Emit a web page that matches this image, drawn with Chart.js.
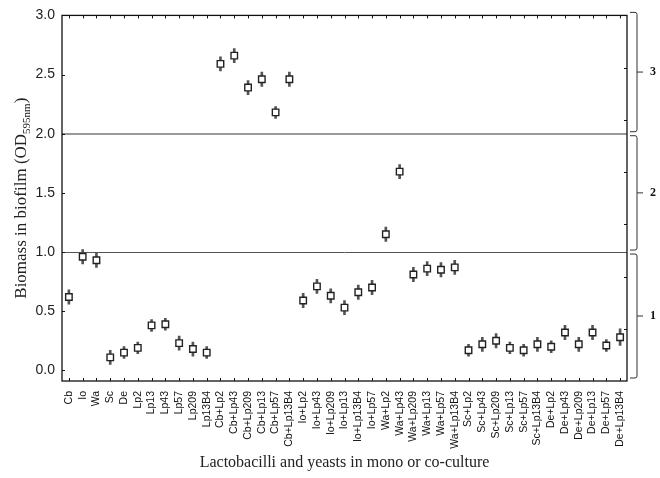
<!DOCTYPE html>
<html>
<head>
<meta charset="utf-8">
<script src="https://cdn.jsdelivr.net/npm/chart.js@4.4.0/dist/chart.umd.min.js"></script>
<style>
  html, body { margin: 0; padding: 0; background: #fff; }
</style>
</head>
<body>
<canvas id="chart" width="660" height="478"></canvas>
<script>
// cultures on the x axis
const categories = [
    'Cb', 'Io', 'Wa', 'Sc', 'De',
    'Lp2', 'Lp13', 'Lp43', 'Lp57', 'Lp209', 'Lp13B4',
    'Cb+Lp2', 'Cb+Lp43', 'Cb+Lp209', 'Cb+Lp13', 'Cb+Lp57', 'Cb+Lp13B4',
    'Io+Lp2', 'Io+Lp43', 'Io+Lp209', 'Io+Lp13', 'Io+Lp13B4', 'Io+Lp57',
    'Wa+Lp2', 'Wa+Lp43', 'Wa+Lp209', 'Wa+Lp13', 'Wa+Lp57', 'Wa+Lp13B4',
    'Sc+Lp2', 'Sc+Lp43', 'Sc+Lp209', 'Sc+Lp13', 'Sc+Lp57', 'Sc+Lp13B4',
    'De+Lp2', 'De+Lp43', 'De+Lp209', 'De+Lp13', 'De+Lp57', 'De+Lp13B4'
];
// mean OD595nm
const biomass = [
    0.62, 0.96, 0.93, 0.11, 0.15,
    0.19, 0.38, 0.39, 0.23, 0.18, 0.15,
    2.59, 2.66, 2.39, 2.46, 2.18, 2.46,
    0.59, 0.71, 0.63, 0.53, 0.66, 0.70,
    1.15, 1.68, 0.81, 0.86, 0.85, 0.87,
    0.17, 0.22, 0.25, 0.19, 0.17, 0.22,
    0.20, 0.32, 0.22, 0.32, 0.21, 0.28
];
// error bar half length
const errs = [
    0.06, 0.06, 0.06, 0.06, 0.05,
    0.05, 0.05, 0.05, 0.06, 0.06, 0.05,
    0.06, 0.06, 0.06, 0.06, 0.05, 0.06,
    0.06, 0.06, 0.06, 0.06, 0.06, 0.06,
    0.06, 0.06, 0.06, 0.06, 0.06, 0.06,
    0.05, 0.06, 0.06, 0.05, 0.05, 0.06,
    0.05, 0.06, 0.06, 0.06, 0.05, 0.07
];
const yTicks = [0, 0.5, 1, 1.5, 2, 2.5, 3];
// biofilm classes shown with brackets on the right
const classLabels = ['3', '2', '1'];
const classBounds = [3, 2, 1, null];

const serif = '"Liberation Serif", "Times New Roman", serif';
const sans = '"Liberation Sans", Arial, sans-serif';

const framePlugin = {
    id: 'frame',
    afterDraw(chart) {
        const ctx = chart.ctx;
        const a = chart.chartArea;
        const xs = chart.scales.x;
        const ys = chart.scales.y;
        ctx.save();

        // frame
        ctx.strokeStyle = '#111';
        ctx.lineWidth = 1.3;
        ctx.strokeRect(a.left, a.top, a.right - a.left, a.bottom - a.top);

        // inward ticks
        ctx.lineWidth = 1;
        ctx.beginPath();
        categories.forEach((c, i) => {
            const px = Math.round(xs.getPixelForTick(i)) + 0.5;
            ctx.moveTo(px, a.top); ctx.lineTo(px, a.top + 3);
            ctx.moveTo(px, a.bottom); ctx.lineTo(px, a.bottom - 3);
        });
        yTicks.forEach(v => {
            const py = Math.round(ys.getPixelForValue(v)) + 0.5;
            ctx.moveTo(a.left, py); ctx.lineTo(a.left + 3, py);
        });
        for (let k = 1; k < 7; k++) {
            const py = Math.round(a.top + (a.bottom - a.top) * k / 7) + 0.5;
            ctx.moveTo(a.right, py); ctx.lineTo(a.right - 3, py);
        }
        ctx.stroke();

        // class brackets
        ctx.strokeStyle = '#333';
        ctx.fillStyle = '#111';
        ctx.font = 'bold 12px ' + serif;
        ctx.textAlign = 'center';
        ctx.textBaseline = 'middle';
        const x0 = a.right + 3, x1 = a.right + 10;
        classLabels.forEach((lab, i) => {
            const top = classBounds[i] === 3 ? a.top - 3 : ys.getPixelForValue(classBounds[i]) + 2;
            const bot = classBounds[i + 1] === null ? a.bottom - 3 : ys.getPixelForValue(classBounds[i + 1]) - 2;
            const mid = (top + bot) / 2;
            ctx.beginPath();
            ctx.moveTo(x0, top);
            ctx.lineTo(x1 - 2, top);
            ctx.quadraticCurveTo(x1, top, x1, top + 2);
            ctx.lineTo(x1, bot - 2);
            ctx.quadraticCurveTo(x1, bot, x1 - 2, bot);
            ctx.lineTo(x0, bot);
            ctx.moveTo(x1, mid);
            ctx.lineTo(x1 + 6, mid);
            ctx.stroke();
            ctx.fillText(lab, a.right + 26, mid);
        });

        // x title
        ctx.font = '16px ' + serif;
        ctx.fillStyle = '#222';
        ctx.fillText('Lactobacilli and yeasts in mono or co-culture', (a.left + a.right) / 2, 463);

        // y title with subscript
        const main = 'Biomass in biofilm (OD';
        const sub = '595nm';
        ctx.translate(20, (a.top + a.bottom) / 2);
        ctx.rotate(-Math.PI / 2);
        ctx.font = '17px ' + serif;
        const w1 = ctx.measureText(main).width;
        const w3 = ctx.measureText(')').width;
        ctx.font = '11px ' + serif;
        const w2 = ctx.measureText(sub).width;
        let x = -(w1 + w2 + w3) / 2;
        ctx.textAlign = 'left';
        ctx.textBaseline = 'alphabetic';
        ctx.font = '17px ' + serif;
        ctx.fillText(main, x, 6);
        x += w1;
        ctx.font = '11px ' + serif;
        ctx.fillText(sub, x, 10);
        x += w2;
        ctx.font = '17px ' + serif;
        ctx.fillText(')', x, 6);

        ctx.restore();
    }
};

new Chart(document.getElementById('chart'), {
    type: 'bar',
    data: {
        labels: categories,
        datasets: [{
            type: 'line',
            data: biomass,
            showLine: false,
            pointStyle: 'rect',
            pointRadius: 4.6,
            pointBackgroundColor: '#fff',
            pointBorderColor: '#222',
            pointBorderWidth: 1.4,
            order: 1
        }, {
            type: 'bar',
            data: biomass.map((v, i) => [v - errs[i], v + errs[i]]),
            backgroundColor: '#555',
            barThickness: 2,
            order: 2
        }]
    },
    options: {
        responsive: false,
        animation: false,
        layout: { padding: { left: 0, right: 33, top: 15, bottom: 0 } },
        plugins: { legend: { display: false }, tooltip: { enabled: false } },
        scales: {
            x: {
                offset: true,
                grid: { display: false },
                border: { display: false },
                ticks: {
                    autoSkip: false,
                    maxRotation: 90,
                    minRotation: 90,
                    padding: 2,
                    color: '#111',
                    font: { family: sans, size: 10.5 }
                },
                afterFit: s => { s.height = 97; }
            },
            y: {
                min: -0.09,
                max: 3,
                afterBuildTicks: s => { s.ticks = yTicks.map(v => ({ value: v })); },
                border: { display: false },
                grid: {
                    drawTicks: false,
                    color: c => c.tick.value === 1 ? '#555' : (c.tick.value === 2 ? '#999' : 'rgba(0,0,0,0)'),
                    lineWidth: c => c.tick.value === 2 ? 2 : 1
                },
                ticks: {
                    padding: 7,
                    color: '#222',
                    font: { family: sans, size: 14 },
                    callback: v => v.toFixed(1)
                },
                afterFit: s => { s.width = 62; }
            }
        }
    },
    plugins: [framePlugin]
});
</script>
</body>
</html>
